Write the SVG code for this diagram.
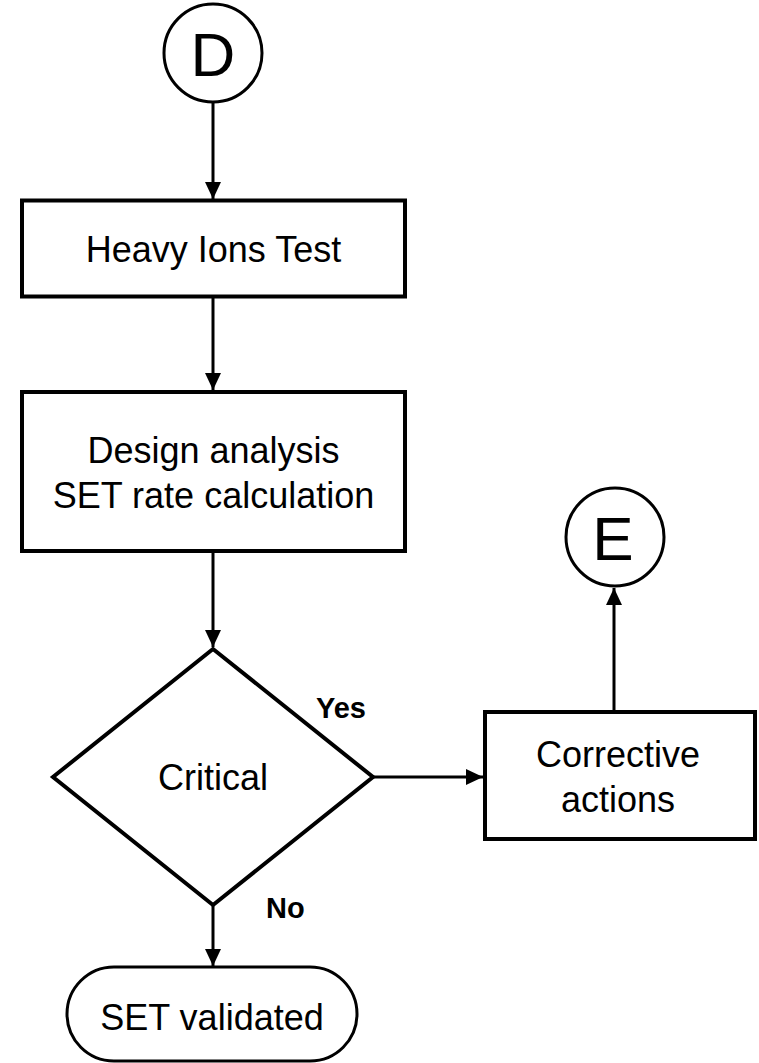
<svg xmlns="http://www.w3.org/2000/svg" width="759" height="1063" viewBox="0 0 759 1063">
  <style>
    .shape { fill: #ffffff; stroke: #000000; }
    .box { stroke-width: 4; }
    .thin { stroke-width: 3; }
    .label { font-family: "Liberation Sans", Arial, sans-serif; font-size: 36px; fill: #000000; text-anchor: middle; }
    .big { font-size: 62px; }
    .edge-label { font-family: "Liberation Sans", Arial, sans-serif; font-size: 29px; font-weight: bold; fill: #000000; }
    .conn { stroke: #000000; stroke-width: 3; fill: none; marker-end: url(#arrow); }
  </style>
  <defs>
    <marker id="arrow" markerWidth="17" markerHeight="16" refX="17" refY="8" orient="auto" markerUnits="userSpaceOnUse">
      <path d="M0,0 L17,8 L0,16 Z" fill="#000000"/>
    </marker>
  </defs>
  <rect width="759" height="1063" fill="#ffffff"/>

  <!-- connectors -->
  <g id="connectors">
    <line class="conn" x1="213" y1="102" x2="213" y2="199"/>
    <line class="conn" x1="213" y1="298" x2="213" y2="390"/>
    <line class="conn" x1="213" y1="553" x2="213" y2="647"/>
    <line class="conn" x1="373" y1="777" x2="483" y2="777"/>
    <line class="conn" x1="614" y1="710" x2="614" y2="588"/>
    <line class="conn" x1="213" y1="905" x2="213" y2="966"/>
  </g>

  <!-- connector D -->
  <g id="node-d">
    <circle class="shape thin" cx="213" cy="53" r="49"/>
    <text class="label big" x="213" y="76">D</text>
  </g>

  <!-- heavy ions test -->
  <g id="node-heavy-ions">
    <rect class="shape box" x="22" y="200.5" width="383" height="96"/>
    <text class="label" x="213.5" y="262">Heavy Ions Test</text>
  </g>

  <!-- design analysis -->
  <g id="node-design">
    <rect class="shape box" x="22" y="392" width="383" height="159"/>
    <text class="label" x="213.5" y="463">Design analysis</text>
    <text class="label" x="213.5" y="508">SET rate calculation</text>
  </g>

  <!-- decision -->
  <g id="node-critical">
    <polygon class="shape box" points="213,649 373,777 213,905 53,777"/>
    <text class="label" x="213" y="790">Critical</text>
  </g>

  <!-- corrective actions -->
  <g id="node-corrective">
    <rect class="shape box" x="485" y="712" width="270" height="127"/>
    <text class="label" x="618" y="767">Corrective</text>
    <text class="label" x="618" y="812">actions</text>
  </g>

  <!-- connector E -->
  <g id="node-e">
    <circle class="shape thin" cx="615" cy="537" r="49"/>
    <text class="label big" x="613" y="560">E</text>
  </g>

  <!-- terminal -->
  <g id="node-validated">
    <rect class="shape thin" x="67" y="967" width="290" height="94" rx="47" ry="47"/>
    <text class="label" x="212" y="1030">SET validated</text>
  </g>

  <!-- branch labels -->
  <g id="edge-labels">
    <text class="edge-label" x="316" y="718">Yes</text>
    <text class="edge-label" x="266" y="918">No</text>
  </g>
</svg>
